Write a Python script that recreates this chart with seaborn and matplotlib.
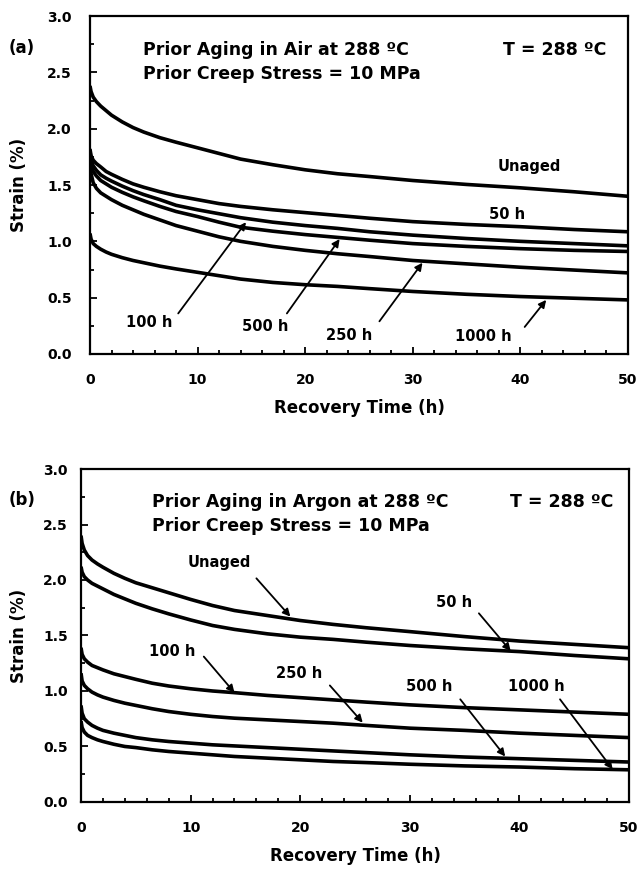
import numpy as np
import pandas as pd
import matplotlib
matplotlib.use("Agg")
import matplotlib.pyplot as plt
import seaborn as sns
from matplotlib.ticker import MultipleLocator

# ---------------- data ----------------
time_h = [0, 0.1, 0.3, 0.6, 1, 1.5, 2, 3, 4, 5, 6.5, 8, 10, 12, 14, 17, 20, 23, 26, 30, 35, 40, 45, 50]
series_names = ["Unaged", "50 h", "100 h", "500 h", "250 h", "1000 h"]

# (a) prior aging in air
air_unaged = [2.38, 2.33, 2.28, 2.24, 2.20, 2.16, 2.12, 2.06, 2.01, 1.97, 1.92, 1.88, 1.83, 1.78, 1.73, 1.68, 1.635, 1.60, 1.575, 1.54, 1.505, 1.475, 1.44, 1.40]
air_50h    = [1.82, 1.76, 1.72, 1.69, 1.66, 1.62, 1.595, 1.55, 1.51, 1.48, 1.44, 1.405, 1.37, 1.335, 1.31, 1.28, 1.255, 1.23, 1.205, 1.175, 1.15, 1.13, 1.105, 1.085]
air_100h   = [1.80, 1.72, 1.67, 1.63, 1.59, 1.56, 1.535, 1.49, 1.45, 1.415, 1.37, 1.32, 1.28, 1.245, 1.21, 1.17, 1.14, 1.115, 1.085, 1.055, 1.025, 1.00, 0.98, 0.96]
air_500h   = [1.78, 1.68, 1.62, 1.58, 1.54, 1.51, 1.48, 1.435, 1.395, 1.36, 1.31, 1.265, 1.22, 1.17, 1.125, 1.09, 1.06, 1.035, 1.01, 0.98, 0.955, 0.935, 0.92, 0.91]
air_250h   = [1.74, 1.60, 1.52, 1.47, 1.43, 1.40, 1.37, 1.32, 1.28, 1.24, 1.19, 1.14, 1.09, 1.04, 1.00, 0.955, 0.92, 0.89, 0.865, 0.83, 0.80, 0.77, 0.745, 0.72]
air_1000h  = [1.07, 1.02, 0.98, 0.955, 0.93, 0.905, 0.885, 0.855, 0.83, 0.81, 0.78, 0.755, 0.725, 0.695, 0.665, 0.635, 0.615, 0.60, 0.58, 0.555, 0.53, 0.51, 0.495, 0.48]

# (b) prior aging in argon
ar_unaged = [2.40, 2.33, 2.27, 2.22, 2.18, 2.145, 2.115, 2.06, 2.015, 1.975, 1.93, 1.885, 1.825, 1.77, 1.725, 1.68, 1.635, 1.60, 1.57, 1.535, 1.49, 1.45, 1.42, 1.39]
ar_50h    = [2.12, 2.07, 2.03, 2.00, 1.97, 1.945, 1.92, 1.87, 1.83, 1.79, 1.74, 1.695, 1.64, 1.59, 1.555, 1.515, 1.485, 1.465, 1.44, 1.41, 1.38, 1.355, 1.32, 1.29]
ar_100h   = [1.39, 1.33, 1.29, 1.26, 1.23, 1.21, 1.19, 1.155, 1.13, 1.105, 1.07, 1.045, 1.02, 1.00, 0.985, 0.96, 0.94, 0.92, 0.90, 0.875, 0.85, 0.83, 0.81, 0.79]
ar_250h   = [1.16, 1.09, 1.05, 1.02, 0.99, 0.965, 0.945, 0.915, 0.89, 0.87, 0.84, 0.815, 0.79, 0.77, 0.755, 0.74, 0.725, 0.71, 0.69, 0.665, 0.645, 0.62, 0.60, 0.58]
ar_500h   = [0.87, 0.80, 0.75, 0.72, 0.69, 0.665, 0.645, 0.62, 0.60, 0.58, 0.56, 0.545, 0.53, 0.515, 0.505, 0.49, 0.475, 0.46, 0.445, 0.425, 0.405, 0.39, 0.375, 0.36]
ar_1000h  = [0.73, 0.67, 0.63, 0.60, 0.58, 0.56, 0.545, 0.52, 0.50, 0.49, 0.47, 0.455, 0.44, 0.425, 0.41, 0.395, 0.38, 0.365, 0.355, 0.34, 0.325, 0.315, 0.30, 0.29]

x_ticks = [0, 10, 20, 30, 40, 50]
y_ticks = [0.0, 0.5, 1.0, 1.5, 2.0, 2.5, 3.0]

# curve labels: (text, label x, label y, arrow tail x, tail y, arrow head x, head y)
labels_a = [
    ("Unaged", 40.8, 1.66, None, None, None, None),
    ("50 h",   38.8, 1.24, None, None, None, None),
    ("100 h",   5.5, 0.28, 8.2, 0.36, 14.5, 1.17),
    ("500 h",  16.3, 0.24, 18.3, 0.36, 23.2, 1.02),
    ("250 h",  24.1, 0.16, 26.9, 0.29, 30.9, 0.81),
    ("1000 h", 36.6, 0.155, 40.4, 0.24, 42.4, 0.48),
]
labels_b = [
    ("Unaged", 12.6, 2.155, 16.0, 2.015, 19.1, 1.67),
    ("50 h",   34.0, 1.80, 36.3, 1.70, 39.2, 1.36),
    ("100 h",   8.35, 1.355, 11.2, 1.31, 14.0, 0.985),
    ("250 h",  19.9, 1.16, 22.7, 1.05, 25.7, 0.715),
    ("500 h",  31.8, 1.04, 34.6, 0.925, 38.7, 0.41),
    ("1000 h", 41.5, 1.04, 43.7, 0.925, 48.5, 0.295),
]

# ---------------- plotting ----------------
sns.set_style("white")
plt.rcParams["font.family"] = ["DejaVu Sans"]
plt.rcParams["font.weight"] = "bold"
plt.rcParams["text.color"] = "black"
plt.rcParams["axes.labelcolor"] = "black"
plt.rcParams["xtick.color"] = "black"
plt.rcParams["ytick.color"] = "black"

fig = plt.figure(figsize=(6.4, 8.76), dpi=100)
ax_a = fig.add_axes([0.1406, 0.5959, 0.8406, 0.3858])
ax_b = fig.add_axes([0.1266, 0.0845, 0.8563, 0.3801])


def make_df(cols):
    frames = []
    for name, vals in zip(series_names, cols):
        frames.append(pd.DataFrame({"t": time_h, "strain": vals, "series": name}))
    return pd.concat(frames, ignore_index=True)


df_a = make_df([air_unaged, air_50h, air_100h, air_500h, air_250h, air_1000h])
df_b = make_df([ar_unaged, ar_50h, ar_100h, ar_250h, ar_500h, ar_1000h])

panels = [
    (ax_a, df_a, labels_a, "Prior Aging in Air at 288 ºC", 0.098, 0.768, 13, 14),
    (ax_b, df_b, labels_b, "Prior Aging in Argon at 288 ºC", 0.129, 0.782, 9.5, 11),
]

for ax, df, labs, head1, hx0, tx0, ypad, ylabpad in panels:
    sns.lineplot(data=df, x="t", y="strain", hue="series",
                 palette=["black"] * len(series_names), legend=False,
                 linewidth=2.6, ax=ax, estimator=None, sort=False,
                 solid_joinstyle="round", solid_capstyle="butt")
    ax.set_xlim(0, 50)
    ax.set_ylim(0, 3.0)
    ax.set_xticks(x_ticks)
    ax.set_yticks(y_ticks)
    ax.set_xticklabels([f"{v:d}" for v in x_ticks], fontsize=10, fontweight="bold")
    ax.set_yticklabels([f"{v:.1f}" for v in y_ticks], fontsize=10, fontweight="bold")
    ax.xaxis.set_minor_locator(MultipleLocator(2))
    ax.yaxis.set_minor_locator(MultipleLocator(0.25))
    ax.tick_params(which="both", direction="in", bottom=True, left=True,
                   top=False, right=False, width=1.3, color="black")
    ax.tick_params(which="major", length=5)
    ax.tick_params(which="minor", length=3)
    ax.tick_params(axis="x", which="major", pad=14)
    ax.tick_params(axis="y", which="major", pad=ypad)
    for s in ax.spines.values():
        s.set_color("black")
        s.set_linewidth(1.6)
    ax.set_xlabel("Recovery Time (h)", fontsize=12, fontweight="bold", labelpad=8)
    ax.set_ylabel("Strain (%)", fontsize=12, fontweight="bold", labelpad=ylabpad)

    ax.text(hx0, 0.90, head1, transform=ax.transAxes,
            fontsize=12.5, fontweight="bold", va="center", ha="left")
    ax.text(hx0, 0.828, "Prior Creep Stress = 10 MPa", transform=ax.transAxes,
            fontsize=12.5, fontweight="bold", va="center", ha="left")
    ax.text(tx0, 0.90, "T = 288 ºC", transform=ax.transAxes,
            fontsize=12.5, fontweight="bold", va="center", ha="left")

    for txt, lx, ly, tx, ty, hx, hy in labs:
        ax.text(lx, ly, txt, fontsize=10.5, fontweight="bold", ha="center", va="center")
        if tx is not None:
            ax.annotate("", xy=(hx, hy), xytext=(tx, ty),
                        arrowprops=dict(arrowstyle="-|>", lw=1.3, color="black",
                                        mutation_scale=11, shrinkA=0, shrinkB=0))

fig.text(0.013, 0.945, "(a)", fontsize=12, fontweight="bold", ha="left", va="center")
fig.text(0.013, 0.429, "(b)", fontsize=12, fontweight="bold", ha="left", va="center")

fig.savefig("out.png", dpi=100, facecolor="white")
